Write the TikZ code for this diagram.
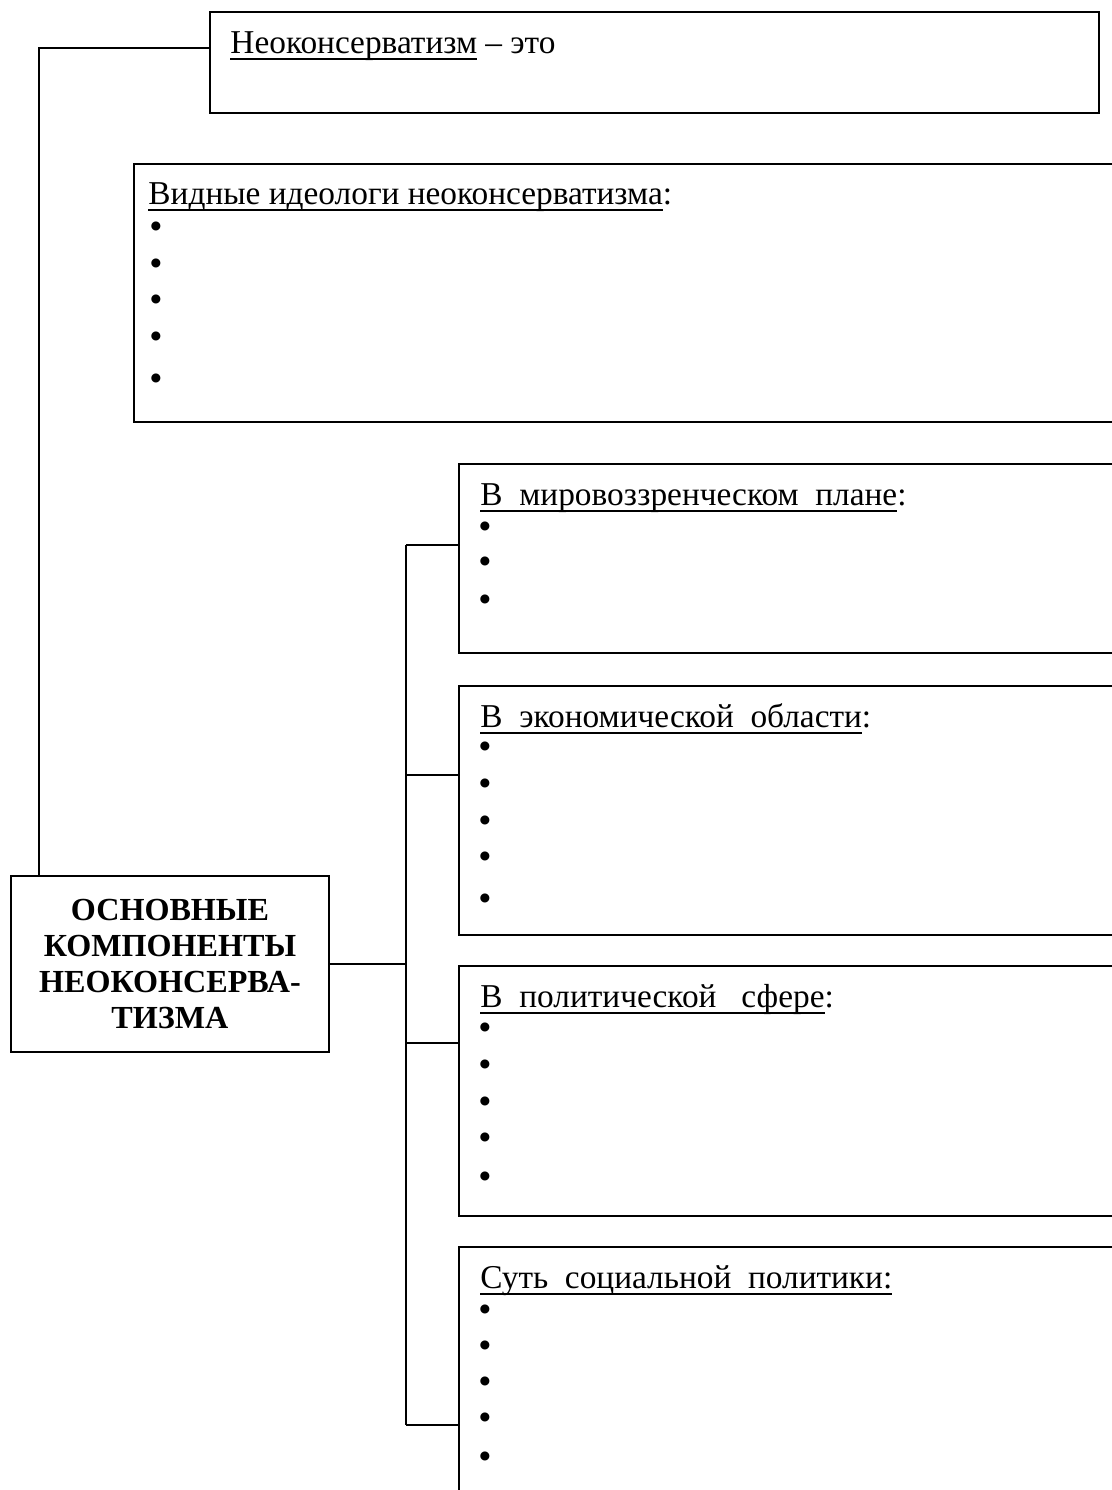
\documentclass[tikz,border=0pt]{standalone}
\usepackage{fontspec}
\setmainfont{Liberation Serif}

\newcommand\pxu{0.42pt}
\newlength\ulw
\newcommand\ulx[1]{\settowidth\ulw{#1}\rlap{\rule[-2.8pt]{\ulw}{0.75pt}}#1}

\tikzset{
  box/.style={draw, line width=0.8pt, anchor=north west, inner sep=0pt},
  head/.style={anchor=base west, inner sep=0pt},
  dot/.style={anchor=center, inner sep=0pt, font=\bfseries\fontsize{14}{14}\selectfont},
  link/.style={line width=0.8pt}
}

\begin{document}
\begin{tikzpicture}[x=0.42pt, y=-0.42pt, font=\fontsize{14}{16}\selectfont]

\useasboundingbox (0,0) rectangle (1112,1490);

% Definition
\node[box, minimum width=889*\pxu, minimum height=101*\pxu] (defn) at (209,11) {};
\node[head] (defntxt) at (230,53) {\ulx{Неоконсерватизм} – это};

% Ideologists
\node[box, minimum width=1000*\pxu, minimum height=258*\pxu] (ideo) at (133,163) {};
\node[head] (ideotxt) at (148,204) {\ulx{Видные идеологи неоконсерватизма}:};
\foreach \y [count=\i] in {230,267,303,340,382}
  \node[dot] (ib\i) at (156,\y) {•};

% Main box
\node[box, minimum width=318*\pxu, minimum height=176*\pxu, align=center,
  font=\bfseries\fontsize{13.5}{15.1}\selectfont] (main) at (10,875)
{ОСНОВНЫЕ\\КОМПОНЕНТЫ\\НЕОКОНСЕРВА-\\ТИЗМА};

% Worldview
\node[box, minimum width=700*\pxu, minimum height=189*\pxu] (world) at (458,463) {};
\node[head] (worldtxt) at (480,505) {\ulx{В\ \ мировоззренческом\ \ плане}:};
\foreach \y [count=\i] in {530,565,603}
  \node[dot] (wb\i) at (485,\y) {•};

% Economy
\node[box, minimum width=700*\pxu, minimum height=249*\pxu] (econ) at (458,685) {};
\node[head] (econtxt) at (480,727) {\ulx{В\ \ экономической\ \ области}:};
\foreach \y [count=\i] in {750,787,824,860,902}
  \node[dot] (eb\i) at (485,\y) {•};

% Politics
\node[box, minimum width=700*\pxu, minimum height=250*\pxu] (polit) at (458,965) {};
\node[head] (polittxt) at (480,1007) {\ulx{В\ \ политической\ \ \ сфере}:};
\foreach \y [count=\i] in {1031,1068,1105,1141,1180}
  \node[dot] (pb\i) at (485,\y) {•};

% Social policy
\node[box, minimum width=700*\pxu, minimum height=300*\pxu] (soc) at (458,1246) {};
\node[head] (soctxt) at (480,1288) {\ulx{Суть\ \ социальной\ \ политики:}};
\foreach \y [count=\i] in {1313,1349,1385,1421,1460}
  \node[dot] (sb\i) at (485,\y) {•};

% Connectors
\coordinate (t1) at (39,48);
\draw[link] (defn.west |- t1) -- (t1) -- (main.north -| t1);

\coordinate (j1) at (406,545);
\coordinate (j2) at (406,775);
\coordinate (j3) at (406,1043);
\coordinate (j4) at (406,1425);
\draw[link] (main.east) -- (main.east -| j1);
\draw[link] (j1) -- (j4);
\draw[link] (j1) -- (j1 -| world.west);
\draw[link] (j2) -- (j2 -| econ.west);
\draw[link] (j3) -- (j3 -| polit.west);
\draw[link] (j4) -- (j4 -| soc.west);

\end{tikzpicture}
\end{document}
